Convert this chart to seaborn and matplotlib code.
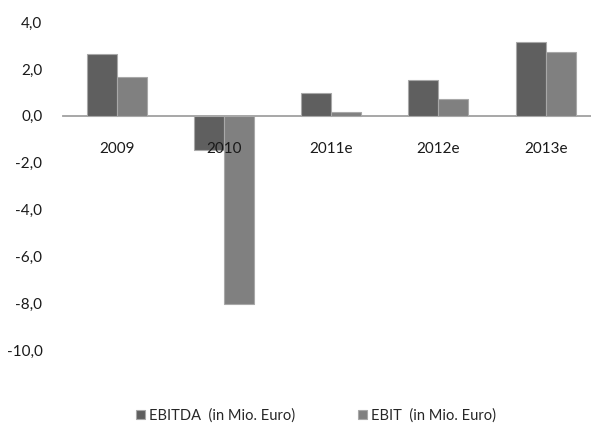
import matplotlib
matplotlib.use("Agg")
import matplotlib.pyplot as plt
import seaborn as sns
import pandas as pd

years = ["2009", "2010", "2011e", "2012e", "2013e"]
ebitda = [2.62, -1.44, 0.96, 1.51, 3.14]
ebit = [1.68, -8.05, 0.16, 0.74, 2.74]
series_names = ["EBITDA  (in Mio. Euro)", "EBIT  (in Mio. Euro)"]
y_ticks = [4, 2, 0, -2, -4, -6, -8, -10]

sns.set_theme(style="white")
plt.rcParams["font.family"] = ["Lato", "DejaVu Sans"]

df = pd.DataFrame({
    "Jahr": years * 2,
    "Wert": ebitda + ebit,
    "Serie": [series_names[0]] * len(years) + [series_names[1]] * len(years),
})

fig = plt.figure(figsize=(5.91, 4.26), dpi=100)
ax = fig.add_axes([0.107, 0.178, 0.907, 0.770])

sns.barplot(data=df, x="Jahr", y="Wert", hue="Serie",
            palette=["#5f5f5f", "#808080"], width=0.56,
            edgecolor="#a8a8a8", linewidth=0.8, saturation=1,
            legend=True, ax=ax)

ax.set_ylim(-10, 4)
ax.set_yticks(y_ticks)
ax.set_yticklabels([f"{v:.1f}".replace(".", ",") for v in y_ticks], fontsize=11)
ax.set_xlim(-0.5, len(years) - 0.5)
ax.set_xlabel("")
ax.set_ylabel("")

for side in ["top", "right", "left"]:
    ax.spines[side].set_visible(False)
ax.spines["bottom"].set_position(("data", 0))
ax.spines["bottom"].set_color("#a0a0a0")
ax.spines["bottom"].set_linewidth(1.3)
ax.spines["bottom"].set_zorder(0)
ax.xaxis.set_zorder(10)
ax.tick_params(axis="x", length=0, pad=19, labelsize=11)
ax.tick_params(axis="y", length=0, pad=15)
for lbl in ax.get_yticklabels() + ax.get_xticklabels():
    lbl.set_color("#1a1a1a")

handles, labels = ax.get_legend_handles_labels()
ax.legend_.remove()
fig.legend(handles, labels, loc="center", bbox_to_anchor=(0.535, 0.025),
           ncol=2, frameon=False, fontsize=10.5, handlelength=0.6,
           handleheight=0.6, handletextpad=0.3, columnspacing=4.3)

fig.savefig("out.png", dpi=100)
